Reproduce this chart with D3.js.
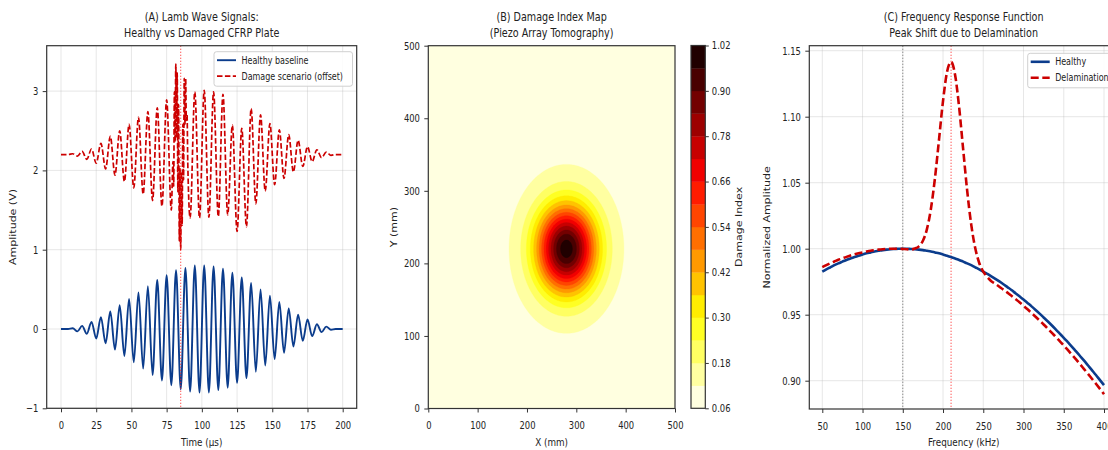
<!DOCTYPE html>
<html>
<head>
<meta charset="utf-8">
<script src="https://cdn.jsdelivr.net/npm/d3@7"></script>
<style>
  html, body { margin: 0; padding: 0; background: #fff; overflow: hidden; }
  svg { display: block; font-family: "DejaVu Sans", sans-serif; }
</style>
</head>
<body>
<svg id="fig" width="1108" height="450"></svg>
<script>
// ---------------- Panel A: Lamb wave tone bursts (extrema of each cycle) ----------------
const waveTimes = [0, 1.67, 5.00, 8.33, 11.67, 15.00, 18.33, 21.67, 25.00, 28.33, 31.67, 35.00, 38.33, 41.67,
  45.00, 48.33, 51.67, 55.00, 58.33, 61.67, 65.00, 68.33, 71.67, 75.00, 78.33, 81.67, 85.00, 88.33, 91.67,
  95.00, 98.33, 101.67, 105.00, 108.33, 111.67, 115.00, 118.33, 121.67, 125.00, 128.33, 131.67, 135.00,
  138.33, 141.67, 145.00, 148.33, 151.67, 155.00, 158.33, 161.67, 165.00, 168.33, 171.67, 175.00, 178.33,
  181.67, 185.00, 188.33, 191.67, 195.00, 198.33, 200];
const healthyAmp = [0, 0.00, 0.00, 0.01, -0.03, 0.04, -0.06, 0.09, -0.12, 0.15, -0.18, 0.22, -0.26, 0.30,
  -0.34, 0.38, -0.42, 0.46, -0.50, 0.54, -0.58, 0.62, -0.65, 0.68, -0.71, 0.74, -0.76, 0.77, -0.79,
  0.80, -0.80, 0.80, -0.80, 0.79, -0.77, 0.76, -0.74, 0.71, -0.68, 0.65, -0.62, 0.58,
  -0.54, 0.50, -0.46, 0.42, -0.38, 0.34, -0.30, 0.26, -0.22, 0.18, -0.15, 0.12, -0.09,
  0.06, -0.04, 0.03, -0.01, 0.00, 0.00, 0];

const damageTimes = [0, 1.67, 5.00, 8.33, 11.67, 15.00, 18.33, 21.67, 25.00, 28.33, 31.67, 35.00, 38.33,
  41.67, 45.00, 48.33, 51.67, 55.00, 58.33, 61.67, 65.00, 68.33, 71.67, 75.00, 78.33,
  79.5, 80.0, 80.5, 81.0, 81.5, 82.0, 82.5, 83.0, 83.5, 84.0, 84.5, 85.0, 85.5, 86.0, 86.5, 87.0,
  87.5, 88.0, 88.5, 89.0, 89.5, 90.0,
  91.67, 95.00, 98.33, 101.67, 105.00, 108.33, 111.67, 115.00, 118.33, 121.67, 125.00, 128.33,
  131.67, 135.00, 138.33, 141.67, 145.00, 148.33, 151.67, 155.00, 158.33, 161.67, 165.00, 168.33,
  171.67, 175.00, 178.33, 181.67, 185.00, 188.33, 191.67, 195.00, 198.33, 200];
const damageAmp = [0, 0.00, 0.00, 0.01, -0.02, 0.04, -0.06, 0.07, -0.11, 0.14, -0.18, 0.23, -0.26,
  0.30, -0.34, 0.38, -0.42, 0.47, -0.50, 0.54, -0.58, 0.59, -0.65, 0.69, -0.70,
  -0.09, -0.40, 0.79, 0.16, 1.14, 0.21, 1.03, -0.47, 0.63, -1.09, -0.17, -1.20, -0.22, -0.89, 0.38, -0.32,
  0.96, 0.38, 0.96, 0.43, 0.50, -0.10,
  -0.80, 0.79, -0.80, 0.81, -0.79, 0.79, -0.78, 0.76, -0.76, 0.37, -0.97, 0.33,
  -0.91, 0.58, -0.62, 0.50, -0.46, 0.39, -0.38, 0.31, -0.30, 0.25, -0.22, 0.18,
  -0.15, 0.10, -0.09, 0.06, -0.04, 0.03, -0.01, 0.00, 0.00, 0];
const damageOffset = 2.2;      // vertical offset of the damaged trace (V)
const damageArrival = 85;      // µs, marked with a dotted line
const timeTicks = [0, 25, 50, 75, 100, 125, 150, 175, 200];
const ampTicks = [-1, 0, 1, 2, 3];

// ---------------- Panel B: damage index map ----------------
const damageCentre = [280, 220];     // mm
const radialDistance = [0, 10, 20, 30, 40, 50, 60, 70, 80, 90, 100, 110, 120, 130, 140, 150, 160, 200, 800];
const radialIndex = [1.00, 0.975, 0.904, 0.798, 0.672, 0.544, 0.425, 0.325, 0.247, 0.191, 0.153, 0.129,
  0.115, 0.108, 0.1035, 0.1015, 0.1006, 0.100, 0.100];
const levels = [0.06, 0.12, 0.18, 0.24, 0.30, 0.36, 0.42, 0.48, 0.54, 0.60, 0.66, 0.72, 0.78, 0.84, 0.90, 0.96, 1.02];
const colorbarTicks = [0.06, 0.18, 0.30, 0.42, 0.54, 0.66, 0.78, 0.90, 1.02];
const mmTicks = [0, 100, 200, 300, 400, 500];

// ---------------- Panel C: frequency response ----------------
const freqKHz = [50, 55, 60, 65, 70, 75, 80, 85, 90, 95, 100, 105, 110, 115, 120, 125, 130, 135, 140, 145,
  150, 155, 160, 165, 170, 175, 180, 185, 190, 195, 200, 205, 210, 215, 220, 225, 230, 235, 240, 245,
  250, 255, 260, 265, 270, 275, 280, 285, 290, 295, 300, 305, 310, 315, 320, 325, 330, 335, 340, 345,
  350, 355, 360, 365, 370, 375, 380, 385, 390, 395, 400];
const healthyFRF = [0.9827, 0.9844, 0.9859, 0.9875, 0.9889, 0.9902, 0.9915, 0.9926, 0.9937, 0.9947,
  0.9956, 0.9965, 0.9972, 0.9979, 0.9984, 0.9989, 0.9993, 0.9996, 0.9998, 1.0000,
  1.0000, 1.0000, 0.9998, 0.9996, 0.9993, 0.9989, 0.9984, 0.9979, 0.9972, 0.9965,
  0.9956, 0.9947, 0.9937, 0.9926, 0.9915, 0.9902, 0.9889, 0.9875, 0.9859, 0.9844,
  0.9827, 0.9809, 0.9791, 0.9772, 0.9752, 0.9731, 0.9709, 0.9687, 0.9663, 0.9639,
  0.9615, 0.9589, 0.9563, 0.9536, 0.9508, 0.9479, 0.9450, 0.9420, 0.9389, 0.9357,
  0.9325, 0.9292, 0.9259, 0.9224, 0.9189, 0.9154, 0.9117, 0.9080, 0.9043, 0.9004, 0.8966];
const delamFRF = [0.9861, 0.9876, 0.9890, 0.9903, 0.9916, 0.9927, 0.9938, 0.9948, 0.9957, 0.9965,
  0.9972, 0.9979, 0.9985, 0.9989, 0.9993, 0.9996, 0.9998, 1.0000, 1.0000, 1.0000,
  0.9998, 0.9996, 0.9993, 1.0001, 1.0018, 1.0060, 1.0148, 1.0304, 1.0536, 1.0826,
  1.1120, 1.1340, 1.1416, 1.1316, 1.1072, 1.0754, 1.0440, 1.0184, 1.0005, 0.9892,
  0.9826, 0.9786, 0.9754, 0.9734, 0.9712, 0.9690, 0.9667, 0.9643, 0.9619, 0.9594,
  0.9568, 0.9541, 0.9513, 0.9485, 0.9456, 0.9426, 0.9396, 0.9364, 0.9333, 0.9300,
  0.9267, 0.9233, 0.9198, 0.9163, 0.9127, 0.9090, 0.9053, 0.9015, 0.8977, 0.8938, 0.8898];
const healthyPeak = 150;   // kHz
const shiftedPeak = 210;   // kHz
const freqTicks = [50, 100, 150, 200, 250, 300, 350, 400];
const frfTicks = [0.90, 0.95, 1.00, 1.05, 1.10, 1.15];

// ---------------- shared styling ----------------
const SX = 0.8;                 // horizontal squeeze applied to all text
const BLUE = "#0b3c8c", RED = "#cc0000", INK = "#222", SPINE = "#333";
const svg = d3.select("#fig");

function squeeze(sel) {
  sel.each(function () {
    const t = d3.select(this);
    const tr = t.attr("transform") || "";
    if (t.classed("rot")) {
      t.attr("transform", tr + ` scale(1,${SX})`);
    } else {
      const x = +t.attr("x") || 0;
      t.attr("x", x / SX).attr("transform", (tr ? tr + " " : "") + `scale(${SX},1)`);
    }
  });
}

function frame(box, id) {
  svg.append("clipPath").attr("id", id).append("rect")
    .attr("x", box.l).attr("y", box.t).attr("width", box.r - box.l).attr("height", box.b - box.t);
}

function spines(box) {
  svg.append("rect").attr("x", box.l).attr("y", box.t)
    .attr("width", box.r - box.l).attr("height", box.b - box.t)
    .attr("fill", "none").attr("stroke", SPINE).attr("stroke-width", 1.2);
}

function axisStyle(g) {
  g.attr("font-family", "DejaVu Sans").attr("font-size", 10.5);
  g.select(".domain").remove();
  g.selectAll(".tick line").attr("stroke", SPINE).attr("stroke-width", 1);
  g.selectAll(".tick text").attr("fill", INK);
}

function gridLines(box, xs, ys, xv, yv) {
  const g = svg.append("g").attr("stroke", "#b0b0b0").attr("stroke-opacity", 0.35).attr("stroke-width", 0.9);
  g.selectAll(".gx").data(xv).join("line")
    .attr("x1", d => xs(d)).attr("x2", d => xs(d)).attr("y1", box.t).attr("y2", box.b);
  g.selectAll(".gy").data(yv).join("line")
    .attr("y1", d => ys(d)).attr("y2", d => ys(d)).attr("x1", box.l).attr("x2", box.r);
}

function title(cx, l1, l2) {
  const g = svg.append("g").attr("font-size", 12).attr("fill", INK).attr("text-anchor", "middle");
  g.append("text").attr("x", cx).attr("y", 21.5).text(l1);
  g.append("text").attr("x", cx).attr("y", 37).text(l2);
}

function xLabel(cx, txt) {
  svg.append("text").attr("x", cx).attr("y", 446.5).attr("text-anchor", "middle")
    .attr("font-size", 11).attr("fill", INK).text(txt);
}
function yLabel(x, cy, txt) {
  svg.append("text").attr("class", "rot").attr("transform", `translate(${x},${cy}) rotate(-90)`)
    .attr("text-anchor", "middle").attr("font-size", 11).attr("fill", INK).text(txt);
}

function legend(x, y, w, items) {
  const g = svg.append("g");
  g.append("rect").attr("x", x).attr("y", y).attr("width", w).attr("height", 34.5).attr("rx", 2.5)
    .attr("fill", "#fff").attr("fill-opacity", 0.85).attr("stroke", "#d0d0d0").attr("stroke-width", 1);
  items.forEach((it, i) => {
    const cy = y + 8.5 + i * 16;
    g.append("line").attr("x1", x + 3).attr("x2", x + 22).attr("y1", cy).attr("y2", cy)
      .attr("stroke", it.color).attr("stroke-width", it.width).attr("stroke-dasharray", it.dash || null);
    g.append("text").attr("x", x + 27.5).attr("y", cy + 3.6).attr("font-size", 10)
      .attr("fill", INK).text(it.label);
  });
}

// =============== Panel A ===============
const A = { l: 46.7, r: 356.7, t: 45.7, b: 408.3 };
const xA = d3.scaleLinear([0, 200], [61, 342.7]);
const yA = d3.scaleLinear([0, 1], [329, 249.7]);
frame(A, "clipA");
gridLines(A, xA, yA, timeTicks, ampTicks);

const plotA = svg.append("g").attr("clip-path", "url(#clipA)");
const lineA = d3.line().x(d => xA(d[0])).y(d => yA(d[1])).curve(d3.curveMonotoneX);
plotA.append("path").datum(d3.zip(waveTimes, healthyAmp))
  .attr("d", lineA).attr("fill", "none").attr("stroke", BLUE).attr("stroke-width", 1.9);
plotA.append("path").datum(d3.zip(damageTimes, damageAmp.map(v => v + damageOffset)))
  .attr("d", lineA).attr("fill", "none").attr("stroke", RED).attr("stroke-width", 1.7)
  .attr("stroke-dasharray", "5.5,2.4");
plotA.append("line").attr("x1", xA(damageArrival)).attr("x2", xA(damageArrival))
  .attr("y1", A.t).attr("y2", A.b).attr("stroke", "#ff2020").attr("stroke-opacity", 0.85)
  .attr("stroke-width", 1).attr("stroke-dasharray", "1.2,1.8");

svg.append("g").attr("transform", `translate(0,${A.b})`)
  .call(d3.axisBottom(xA).tickValues(timeTicks).tickSize(4).tickPadding(9.4).tickFormat(d3.format("d")))
  .call(axisStyle);
svg.append("g").attr("transform", `translate(${A.l},0)`)
  .call(d3.axisLeft(yA).tickValues(ampTicks).tickSize(4).tickPadding(4.4).tickFormat(d3.format("d")))
  .call(axisStyle);
spines(A);
legend(214, 51.7, 138.5, [
  { label: "Healthy baseline", color: BLUE, width: 1.9 },
  { label: "Damage scenario (offset)", color: RED, width: 1.7, dash: "5.5,2.4" }
]);
title((A.l + A.r) / 2, "(A) Lamb Wave Signals:", "Healthy vs Damaged CFRP Plate");
xLabel((A.l + A.r) / 2, "Time (\u00b5s)");
yLabel(16, (A.t + A.b) / 2, "Amplitude (V)");

// =============== Panel B ===============
const B = { l: 428.3, r: 675, t: 45.7, b: 408.5 };
const xB = d3.scaleLinear([0, 500], [B.l, B.r]);
const yB = d3.scaleLinear([0, 500], [B.b, B.t]);
frame(B, "clipB");

function hot(x) {
  const r = x < 0.365079 ? 0.0416 + (1 - 0.0416) * x / 0.365079 : 1;
  const g = x < 0.365079 ? 0 : x < 0.746032 ? (x - 0.365079) / (0.746032 - 0.365079) : 1;
  const b = x < 0.746032 ? 0 : (x - 0.746032) / (1 - 0.746032);
  return d3.rgb(r * 255, g * 255, b * 255).formatHex();
}
const nBands = levels.length - 1;
const bandColor = k => hot(1 - (k + 0.5) / nBands);   // reversed "hot" map

const N = 250, cell = 2;   // 2 mm grid over the 500 x 500 mm plate
const radial = d3.scaleLinear(radialDistance, radialIndex).clamp(true);
const field = new Float64Array(N * N);
for (let j = 0; j < N; j++) {
  for (let i = 0; i < N; i++) {
    const x = (i + 0.5) * cell, y = (j + 0.5) * cell;
    field[i + j * N] = radial(Math.hypot(x - damageCentre[0], y - damageCentre[1]));
  }
}
const contours = d3.contours().size([N, N]).smooth(true).thresholds(levels.slice(0, -1))(field);
const toScreen = d3.geoTransform({ point(u, v) { this.stream.point(xB(u * cell), yB(v * cell)); } });
const cpath = d3.geoPath(toScreen);
svg.append("g").attr("clip-path", "url(#clipB)")
  .selectAll("path").data(contours).join("path")
  .attr("d", cpath).attr("fill", (d, k) => bandColor(k)).attr("stroke", (d, k) => bandColor(k))
  .attr("stroke-width", 0.3);

svg.append("g").attr("transform", `translate(0,${B.b})`)
  .call(d3.axisBottom(xB).tickValues(mmTicks).tickSize(4).tickPadding(9.4).tickFormat(d3.format("d")))
  .call(axisStyle);
svg.append("g").attr("transform", `translate(${B.l},0)`)
  .call(d3.axisLeft(yB).tickValues(mmTicks).tickSize(4).tickPadding(4.4).tickFormat(d3.format("d")))
  .call(axisStyle);
spines(B);
title((B.l + B.r) / 2, "(B) Damage Index Map", "(Piezo Array Tomography)");
xLabel((B.l + B.r) / 2, "X (mm)");
yLabel(397, (B.t + B.b) / 2, "Y (mm)");

// colour bar
const CB = { l: 691, r: 705.3, t: 45.5, b: 408.3 };
const yCB = d3.scaleLinear([levels[0], levels[nBands]], [CB.b, CB.t]);
svg.append("g").selectAll("rect").data(d3.range(nBands)).join("rect")
  .attr("x", CB.l).attr("width", CB.r - CB.l)
  .attr("y", k => yCB(levels[k + 1])).attr("height", k => yCB(levels[k]) - yCB(levels[k + 1]) + 0.3)
  .attr("fill", k => bandColor(k));
svg.append("g").attr("transform", `translate(${CB.r},0)`)
  .call(d3.axisRight(yCB).tickValues(colorbarTicks).tickSize(3.5).tickPadding(3).tickFormat(d3.format(".2f")))
  .call(axisStyle);
spines(CB);
yLabel(742, (CB.t + CB.b) / 2, "Damage Index");

// =============== Panel C ===============
const C = { l: 809.3, r: 1118, t: 45.7, b: 409 };
const xC = d3.scaleLinear([50, 400], [822.3, 1104]);
const yC = d3.scaleLinear([0.90, 1.15], [380.7, 50.7]);
frame(C, "clipC");
gridLines(C, xC, yC, freqTicks, frfTicks);

const plotC = svg.append("g").attr("clip-path", "url(#clipC)");
plotC.append("line").attr("x1", xC(healthyPeak)).attr("x2", xC(healthyPeak)).attr("y1", C.t).attr("y2", C.b)
  .attr("stroke", "#808080").attr("stroke-width", 1).attr("stroke-dasharray", "1.2,1.8");
plotC.append("line").attr("x1", xC(shiftedPeak)).attr("x2", xC(shiftedPeak)).attr("y1", C.t).attr("y2", C.b)
  .attr("stroke", "#ff2020").attr("stroke-opacity", 0.85).attr("stroke-width", 1).attr("stroke-dasharray", "1.2,1.8");
const lineC = d3.line().x(d => xC(d[0])).y(d => yC(d[1])).curve(d3.curveMonotoneX);
plotC.append("path").datum(d3.zip(freqKHz, healthyFRF))
  .attr("d", lineC).attr("fill", "none").attr("stroke", BLUE).attr("stroke-width", 2.6);
plotC.append("path").datum(d3.zip(freqKHz, delamFRF))
  .attr("d", lineC).attr("fill", "none").attr("stroke", RED).attr("stroke-width", 2.6)
  .attr("stroke-dasharray", "8,3.6");

svg.append("g").attr("transform", `translate(0,${C.b})`)
  .call(d3.axisBottom(xC).tickValues(freqTicks).tickSize(4).tickPadding(9.4).tickFormat(d3.format("d")))
  .call(axisStyle);
svg.append("g").attr("transform", `translate(${C.l},0)`)
  .call(d3.axisLeft(yC).tickValues(frfTicks).tickSize(4).tickPadding(4.4).tickFormat(d3.format(".2f")))
  .call(axisStyle);
spines(C);
legend(1027.7, 53.3, 100, [
  { label: "Healthy", color: BLUE, width: 2.6 },
  { label: "Delamination", color: RED, width: 2.6, dash: "8,3.6" }
]);
title((C.l + C.r) / 2, "(C) Frequency Response Function", "Peak Shift due to Delamination");
xLabel((C.l + C.r) / 2, "Frequency (kHz)");
yLabel(770, (C.t + C.b) / 2, "Normalized Amplitude");

squeeze(svg.selectAll("text"));
</script>
</body>
</html>
